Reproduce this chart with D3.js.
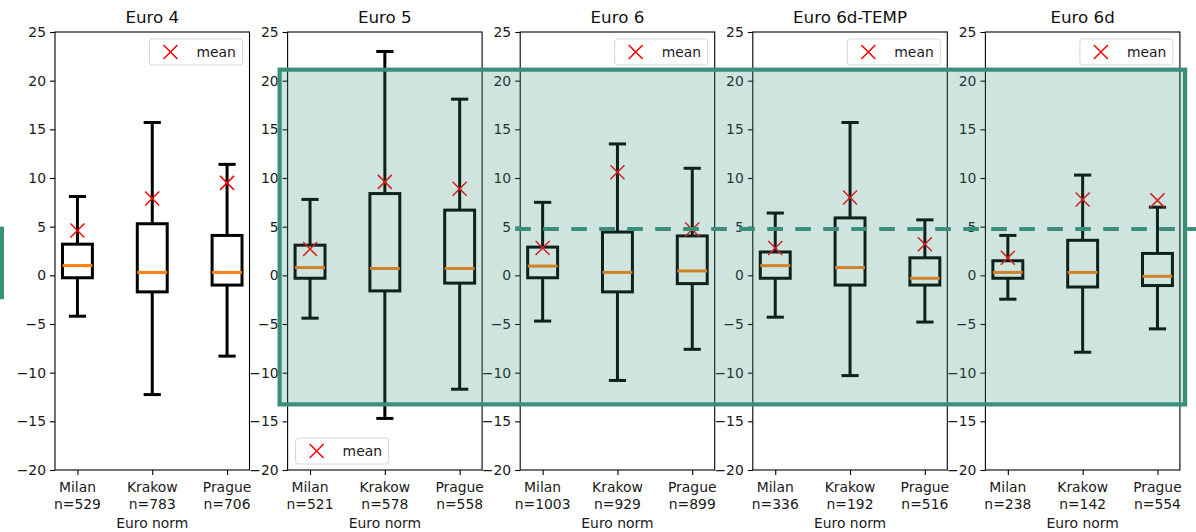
<!DOCTYPE html>
<html>
<head>
<meta charset="utf-8">
<script src="https://cdn.jsdelivr.net/npm/d3@7"></script>
<style>
  html, body { margin: 0; padding: 0; background: #fff; }
  svg { display: block; font-family: "DejaVu Sans", sans-serif; }
</style>
</head>
<body>
<svg id="chart" width="1196" height="532"></svg>
<script>
// Emission deviation by Euro norm and city: box statistics per group
const panels = ["Euro 4", "Euro 5", "Euro 6", "Euro 6d-TEMP", "Euro 6d"];
const cities = ["Milan", "Krakow", "Prague"];
const counts = [
  [529, 783, 706],
  [521, 578, 558],
  [1003, 929, 899],
  [336, 192, 516],
  [238, 142, 554]
];
const whiskerHigh = [
  [8.1, 15.7, 11.4],
  [7.8, 23.0, 18.1],
  [7.5, 13.5, 11.0],
  [6.4, 15.7, 5.7],
  [4.1, 10.3, 7.0]
];
const upperQuartile = [
  [3.2, 5.3, 4.1],
  [3.1, 8.4, 6.7],
  [2.9, 4.45, 4.05],
  [2.4, 5.9, 1.8],
  [1.5, 3.6, 2.25]
];
const medians = [
  [1.0, 0.3, 0.3],
  [0.8, 0.7, 0.7],
  [0.95, 0.3, 0.45],
  [1.0, 0.8, -0.3],
  [0.3, 0.3, -0.1]
];
const lowerQuartile = [
  [-0.25, -1.7, -1.0],
  [-0.3, -1.6, -0.8],
  [-0.25, -1.7, -0.85],
  [-0.3, -1.0, -1.0],
  [-0.3, -1.2, -1.05]
];
const whiskerLow = [
  [-4.2, -12.25, -8.3],
  [-4.4, -14.7, -11.7],
  [-4.7, -10.8, -7.6],
  [-4.3, -10.3, -4.8],
  [-2.45, -7.9, -5.5]
];
const means = [
  [4.6, 7.9, 9.5],
  [2.7, 9.6, 8.9],
  [2.8, 10.6, 4.7],
  [2.8, 8.0, 3.2],
  [1.8, 7.8, 7.7]
];
const yTicks = [-20, -15, -10, -5, 0, 5, 10, 15, 20, 25];
const legendCorner = ["top-right", "bottom-left", "top-right", "top-right", "top-right"];

// Highlighted region (value range across Euro 5 .. Euro 6d) and reference level
const highlightPanels = [1, 4];
const highlightRange = [21.13, -13.26];
const referenceLevel = 4.75;

const teal = "rgb(58,143,122)";
const W = 1196, H = 532;
const svg = d3.select("#chart");

const plotTop = 32, plotBottom = 470;
const panelW = 194.5, panelStep = 232.6, firstLeft = 55;
const panelLeft = i => firstLeft + i * panelStep;

const y = d3.scaleLinear().domain([-20, 25]).range([plotBottom, plotTop]);
const x = d3.scaleLinear().domain([0.7, 3.3]).range([0, panelW]);
const fmt = d => d < 0 ? "\u2212" + Math.abs(d) : String(d);

const tickFont = "13.9px";
const halfBox = 0.2, halfCap = 0.115;

panels.forEach((name, i) => {
  const g = svg.append("g").attr("transform", `translate(${panelLeft(i)},0)`);

  // y axis
  const ya = g.append("g").call(d3.axisLeft(y).tickValues(yTicks).tickSize(5).tickPadding(4).tickFormat(fmt));
  ya.select(".domain").remove();
  ya.selectAll("line").attr("stroke", "#000").attr("stroke-width", 1.1);
  ya.selectAll("text").attr("font-size", tickFont).attr("fill", "#1a1a1a")
    .attr("font-family", "DejaVu Sans");

  // x axis ticks and two-line labels
  const xa = g.append("g").attr("transform", `translate(0,${plotBottom})`)
    .call(d3.axisBottom(x).tickValues([1, 2, 3]).tickSize(5).tickFormat(""));
  xa.select(".domain").remove();
  xa.selectAll("line").attr("stroke", "#000").attr("stroke-width", 1.1);
  cities.forEach((c, j) => {
    const t = g.append("text").attr("x", x(j + 1)).attr("text-anchor", "middle")
      .attr("font-size", tickFont).attr("fill", "#1a1a1a");
    t.append("tspan").attr("x", x(j + 1)).attr("y", 492).text(c);
    t.append("tspan").attr("x", x(j + 1)).attr("y", 508.5).text("n=" + counts[i][j]);
  });
  g.append("text").attr("x", panelW / 2).attr("y", 528).attr("text-anchor", "middle")
    .attr("font-size", tickFont).attr("fill", "#1a1a1a").text("Euro norm");

  // title
  g.append("text").attr("x", panelW / 2).attr("y", 23).attr("text-anchor", "middle")
    .attr("font-size", "16.7px").attr("fill", "#111").text(name);

  // boxes
  cities.forEach((c, j) => {
    const p = j + 1;
    const bx = g.append("g").attr("stroke", "#000").attr("stroke-width", 3).attr("fill", "none");
    bx.append("line").attr("x1", x(p)).attr("x2", x(p))
      .attr("y1", y(upperQuartile[i][j])).attr("y2", y(whiskerHigh[i][j]));
    bx.append("line").attr("x1", x(p)).attr("x2", x(p))
      .attr("y1", y(lowerQuartile[i][j])).attr("y2", y(whiskerLow[i][j]));
    bx.append("line").attr("x1", x(p - halfCap)).attr("x2", x(p + halfCap))
      .attr("y1", y(whiskerHigh[i][j])).attr("y2", y(whiskerHigh[i][j]));
    bx.append("line").attr("x1", x(p - halfCap)).attr("x2", x(p + halfCap))
      .attr("y1", y(whiskerLow[i][j])).attr("y2", y(whiskerLow[i][j]));
    bx.append("rect").attr("x", x(p - halfBox)).attr("width", x(p + halfBox) - x(p - halfBox))
      .attr("y", y(upperQuartile[i][j])).attr("height", y(lowerQuartile[i][j]) - y(upperQuartile[i][j]));
    g.append("line").attr("x1", x(p - halfBox)).attr("x2", x(p + halfBox))
      .attr("y1", y(medians[i][j])).attr("y2", y(medians[i][j]))
      .attr("stroke", "#ff7f0e").attr("stroke-width", 3);
    // mean marker
    const mx = x(p), my = y(means[i][j]), s = 7;
    g.append("path").attr("d", `M${mx - s},${my - s}L${mx + s},${my + s}M${mx - s},${my + s}L${mx + s},${my - s}`)
      .attr("stroke", "#ff0000").attr("stroke-width", 1.5).attr("fill", "none");
  });

  // frame
  g.append("rect").attr("x", 0).attr("y", plotTop).attr("width", panelW).attr("height", plotBottom - plotTop)
    .attr("fill", "none").attr("stroke", "#000").attr("stroke-width", 1.1);

  // legend
  const lw = 93, lh = 26;
  const lx = legendCorner[i] === "top-right" ? panelW - 7 - lw : 8;
  const ly = legendCorner[i] === "top-right" ? plotTop + 7 : plotBottom - 6 - lh;
  const lg = g.append("g").attr("transform", `translate(${lx},${ly})`);
  lg.append("rect").attr("width", lw).attr("height", lh).attr("rx", 3)
    .attr("fill", "#fff").attr("fill-opacity", 0.8).attr("stroke", "#d6d6d6").attr("stroke-width", 1);
  const s = 7, cx = 21, cy = lh / 2;
  lg.append("path").attr("d", `M${cx - s},${cy - s}L${cx + s},${cy + s}M${cx - s},${cy + s}L${cx + s},${cy - s}`)
    .attr("stroke", "#ff0000").attr("stroke-width", 1.5).attr("fill", "none");
  lg.append("text").attr("x", 47).attr("y", cy + 4.8).attr("font-size", tickFont).attr("fill", "#1a1a1a").text("mean");
});

// highlighted band across the later norms
const hx0 = panelLeft(highlightPanels[0]) - 8;
const hx1 = panelLeft(highlightPanels[1]) + panelW + 5.2;
svg.append("rect")
  .attr("x", hx0).attr("width", hx1 - hx0)
  .attr("y", y(highlightRange[0])).attr("height", y(highlightRange[1]) - y(highlightRange[0]))
  .attr("fill", teal).attr("fill-opacity", 0.24)
  .attr("stroke", teal).attr("stroke-width", 4.2);

// reference level
svg.append("line")
  .attr("x1", panelLeft(2) - 5).attr("x2", W + 10)
  .attr("y1", y(referenceLevel)).attr("y2", y(referenceLevel))
  .attr("stroke", teal).attr("stroke-width", 4).attr("stroke-dasharray", "15.7,12.3");

// marker at the left edge
svg.append("rect").attr("x", -2).attr("width", 6)
  .attr("y", y(5.0)).attr("height", y(-2.45) - y(5.0))
  .attr("fill", teal);
</script>
</body>
</html>
